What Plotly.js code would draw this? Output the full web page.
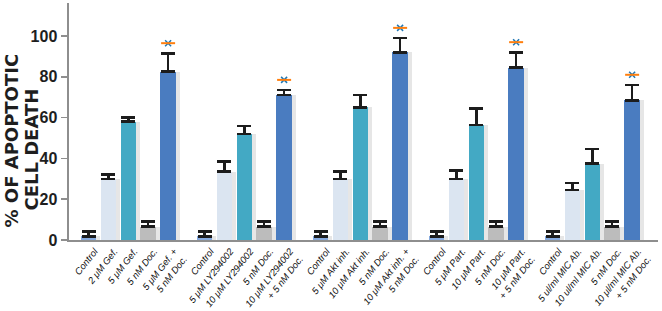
<!DOCTYPE html>
<html>
<head>
<meta charset="utf-8">
<script src="https://cdn.plot.ly/plotly-3.0.1.min.js"></script>
<style>html,body{margin:0;padding:0;background:#fff;}#chart{width:662px;height:311px;}</style>
</head>
<body>
<div id="chart"></div>
<script>
// Data
const groupLabels = [
  ["Control", "2 μM Gef.", "5 μM Gef.", "5 nM Doc.", "5 μM Gef. +<br>5 nM Doc."],
  ["Control", "5 μM LY294002", "10 μM LY294002", "5 nM Doc.", "10 μM LY294002<br>+ 5 nM Doc."],
  ["Control", "5 μM Akt inh.", "10 μM Akt inh.", "5 nM Doc.", "10 μM Akt inh. +<br>5 nM Doc."],
  ["Control", "5 μM Part.", "10 μM Part.", "5 nM Doc.", "10 μM Part.<br>+ 5 nM Doc."],
  ["Control", "5 ul/ml MIC Ab.", "10 ul/ml MIC Ab.", "5 nM Doc.", "10 μl/ml MIC Ab.<br>+ 5 nM Doc."]
];
const controlVals = [1.8, 1.8, 1.8, 1.8, 1.8];
const controlErr  = [2.3, 2.3, 2.3, 2.3, 2.3];
const lowVals     = [30, 33.5, 30, 30, 24.5];
const lowErr      = [2, 5, 3.5, 4, 3.5];
const highVals    = [58, 52, 65, 56.5, 37.5];
const highErr     = [2, 4, 6, 8, 7];
const docVals     = [6.5, 6.5, 6.5, 6.5, 6.5];
const docErr      = [2.5, 2.5, 2.5, 2.5, 2.5];
const comboVals   = [82.5, 71, 92, 84.5, 68.5];
const comboErr    = [9, 2.5, 7, 7.5, 7.5];
const yTicks      = [0, 20, 40, 60, 80, 100];

const series = [
  {vals: controlVals, err: controlErr, color: "#86aadf"},
  {vals: lowVals,     err: lowErr,     color: "#dbe5f1"},
  {vals: highVals,    err: highErr,    color: "#43a9c4"},
  {vals: docVals,     err: docErr,     color: "#bcbcbc"},
  {vals: comboVals,   err: comboErr,   color: "#4a7cc0"}
];

const GROUP_STEP = 5.83;
const xPos = (g, b) => g * GROUP_STEP + b;

const traces = [];
// shadow bars
series.forEach((s, b) => {
  traces.push({
    type: "bar",
    x: s.vals.map((v, g) => xPos(g, b) + 0.2),
    y: s.vals,
    width: 0.8,
    marker: {color: "#e6e6e6", line: {width: 0}},
    hoverinfo: "skip",
    showlegend: false
  });
});
// main bars
series.forEach((s, b) => {
  traces.push({
    type: "bar",
    x: s.vals.map((v, g) => xPos(g, b)),
    y: s.vals,
    width: 0.78,
    marker: {color: s.color, line: {width: 0}},
    error_y: {type: "data", symmetric: false, array: s.err, arrayminus: s.err.map(() => 0),
              color: "#1c1c1c", thickness: 2.5, width: 7},
    showlegend: false
  });
});
// significance asterisks above combination bars
const astX = comboVals.map((v, g) => xPos(g, 4));
const astY = comboVals.map((v, g) => v + comboErr[g] + 5);
traces.push({
  type: "scatter", mode: "markers", x: astX, y: astY,
  marker: {symbol: "x-thin-open", size: 6, line: {color: "#d9a070", width: 1.5}},
  showlegend: false, hoverinfo: "skip"
});
traces.push({
  type: "scatter", mode: "markers", x: astX, y: astY,
  marker: {symbol: "line-ew-open", size: 10, line: {color: "#5a78b0", width: 2}},
  showlegend: false, hoverinfo: "skip"
});

const tickvals = [], ticktext = [];
groupLabels.forEach((labs, g) => labs.forEach((t, b) => {
  tickvals.push(xPos(g, b) + 0.3);
  ticktext.push(t);
}));

const layout = {
  width: 662, height: 311,
  margin: {l: 69, r: 4, t: 3, b: 71},
  paper_bgcolor: "#fff", plot_bgcolor: "#fff",
  barmode: "overlay",
  bargap: 0,
  xaxis: {
    range: [-0.98, 28.62],
    tickvals: tickvals, ticktext: ticktext,
    tickangle: -52,
    tickfont: {family: "Liberation Sans Narrow, Arial, sans-serif", size: 9.5, color: "#111", style: "italic"},
    ticks: "", showgrid: false, zeroline: false,
    showline: true, linecolor: "#8e8e8e", linewidth: 2
  },
  yaxis: {
    range: [0, 116.2],
    tickvals: yTicks,
    ticks: "outside", ticklen: 6, tickwidth: 1.5, tickcolor: "#8e8e8e",
    tickfont: {family: "Liberation Sans Narrow, Arial, sans-serif", size: 16, color: "#1e1e1e", weight: "bold"},
    showgrid: false, zeroline: false,
    showline: true, linecolor: "#8e8e8e", linewidth: 2.5
  },
  annotations: [
    {text: "% OF APOPTOTIC", xref: "paper", yref: "paper", x: -0.0985, y: 0.42,
     xanchor: "center", yanchor: "middle", textangle: -90, showarrow: false,
     font: {family: "DejaVu Sans, Arial, sans-serif", size: 18, color: "#1e1e1e", weight: "bold"}},
    {text: "CELL DEATH", xref: "paper", yref: "paper", x: -0.0635, y: 0.38,
     xanchor: "center", yanchor: "middle", textangle: -90, showarrow: false,
     font: {family: "DejaVu Sans, Arial, sans-serif", size: 18, color: "#1e1e1e", weight: "bold"}}
  ]
};

Plotly.newPlot("chart", traces, layout, {displayModeBar: false, staticPlot: true});
</script>
</body>
</html>
